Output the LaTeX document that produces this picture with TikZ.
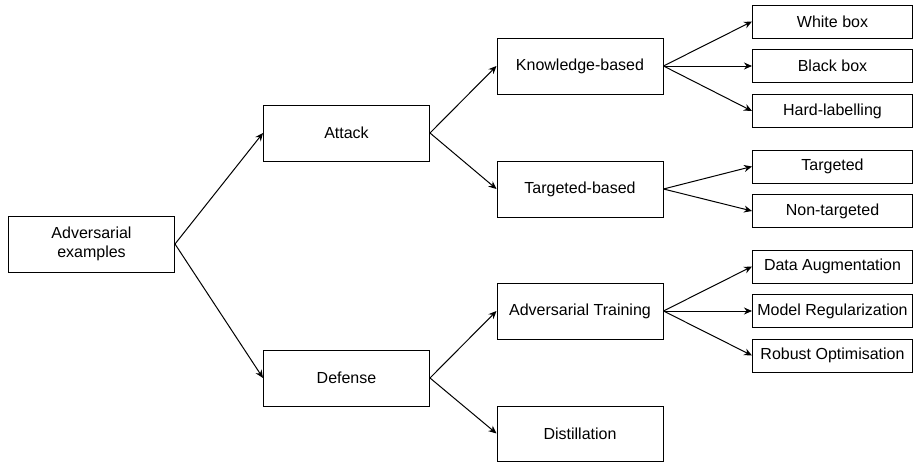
\documentclass[tikz,border=0pt]{standalone}
\usepackage{fontspec}
\setmainfont{Liberation Sans}
\usetikzlibrary{arrows.meta}
\begin{document}
\begin{tikzpicture}[x=1pt,y=-1pt,
  box/.style={draw=black,line width=1pt,fill=white,inner sep=0pt,align=center,font=\fontsize{16}{18.5}\selectfont},
  big/.style={box,minimum width=166pt,minimum height=56pt},
  small/.style={box,minimum width=160pt,minimum height=33pt},
  arr/.style={line width=1pt,-{Stealth[length=8pt,width=7pt]}}]
\useasboundingbox (0,0) rectangle (914,463);
\node[big] (adv) at (91.5,244) {Adversarial\\examples};
\node[big] (attack) at (346.5,133) {Attack};
\node[big] (defense) at (346.5,378) {Defense};
\node[big] (know) at (580,66) {Knowledge-based};
\node[big] (targ) at (580,189) {Targeted-based};
\node[big] (advtr) at (580,311) {Adversarial Training};
\node[big,minimum height=55pt] (dist) at (580,433.5) {Distillation};
\node[small] (white) at (832.5,21.5) {White box};
\node[small] (black) at (832.5,66) {Black box};
\node[small] (hard) at (832.5,111) {Hard-labelling};
\node[small] (tgt) at (832.5,166.5) {Targeted};
\node[small] (ntgt) at (832.5,211) {Non-targeted};
\node[small] (data) at (832.5,266.5) {Data Augmentation};
\node[small] (model) at (832.5,311) {Model Regularization};
\node[small] (robust) at (832.5,355.5) {Robust Optimisation};
\draw[arr] (adv.east) -- (attack.west);
\draw[arr] (adv.east) -- (defense.west);
\draw[arr] (attack.east) -- (know.west);
\draw[arr] (attack.east) -- (targ.west);
\draw[arr] (defense.east) -- (advtr.west);
\draw[arr] (defense.east) -- (dist.west);
\draw[arr] (know.east) -- (white.west);
\draw[arr] (know.east) -- (black.west);
\draw[arr] (know.east) -- (hard.west);
\draw[arr] (targ.east) -- (tgt.west);
\draw[arr] (targ.east) -- (ntgt.west);
\draw[arr] (advtr.east) -- (data.west);
\draw[arr] (advtr.east) -- (model.west);
\draw[arr] (advtr.east) -- (robust.west);
\end{tikzpicture}
\end{document}
